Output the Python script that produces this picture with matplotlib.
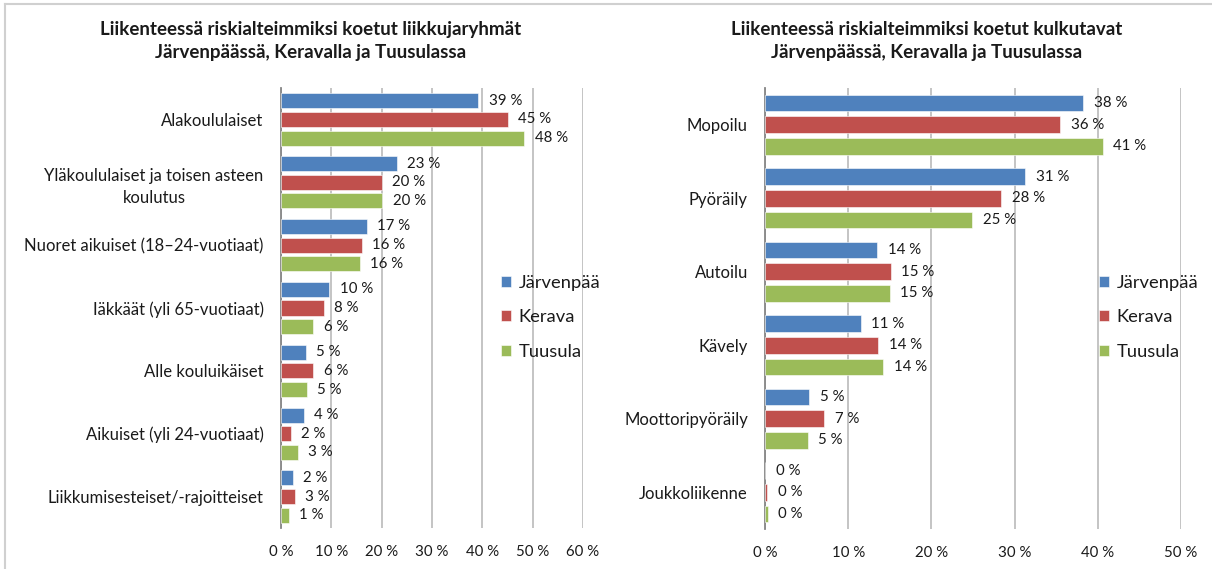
import matplotlib
matplotlib.use("Agg")
import matplotlib.pyplot as plt
import numpy as np
from matplotlib.lines import Line2D

plt.rcParams['font.family'] = ['Lato', 'DejaVu Sans']

series = ["Järvenpää", "Kerava", "Tuusula"]
colors = ["#4F81BD", "#C0504D", "#9BBB59"]

left_title = "Liikenteessä riskialteimmiksi koetut liikkujaryhmät\nJärvenpäässä, Keravalla ja Tuusulassa"
left_cats = ["Alakoululaiset", "Yläkoululaiset ja toisen asteen\nkoulutus",
             "Nuoret aikuiset (18–24-vuotiaat)", "Iäkkäät (yli 65-vuotiaat)",
             "Alle kouluikäiset", "Aikuiset (yli 24-vuotiaat)",
             "Liikkumisesteiset/-rajoitteiset"]
left_jarvenpaa = [39.2, 23.0, 17.1, 9.6, 4.9, 4.5, 2.3]
left_kerava = [45.0, 20.0, 16.1, 8.5, 6.4, 1.9, 2.7]
left_tuusula = [48.3, 20.1, 15.6, 6.4, 5.1, 3.3, 1.5]
left_labels = [["39 %", "23 %", "17 %", "10 %", "5 %", "4 %", "2 %"],
               ["45 %", "20 %", "16 %", "8 %", "6 %", "2 %", "3 %"],
               ["48 %", "20 %", "16 %", "6 %", "5 %", "3 %", "1 %"]]
left_ticks = [0, 10, 20, 30, 40, 50, 60]

right_title = "Liikenteessä riskialteimmiksi koetut kulkutavat\nJärvenpäässä, Keravalla ja Tuusulassa"
right_cats = ["Mopoilu", "Pyöräily", "Autoilu", "Kävely", "Moottoripyöräily", "Joukkoliikenne"]
right_jarvenpaa = [38.3, 31.3, 13.5, 11.5, 5.3, 0.0]
right_kerava = [35.5, 28.4, 15.1, 13.6, 7.1, 0.25]
right_tuusula = [40.6, 24.9, 15.0, 14.2, 5.1, 0.3]
right_labels = [["38 %", "31 %", "14 %", "11 %", "5 %", "0 %"],
                ["36 %", "28 %", "15 %", "14 %", "7 %", "0 %"],
                ["41 %", "25 %", "15 %", "14 %", "5 %", "0 %"]]
right_ticks = [0, 10, 20, 30, 40, 50]

W, H = 1212, 569
fig = plt.figure(figsize=(W / 100, H / 100), dpi=100)
fig.patch.set_facecolor("white")

def px_axes(x0, x1, y0, y1):
    return fig.add_axes([x0 / W, 1 - y1 / H, (x1 - x0) / W, (y1 - y0) / H])

TXT = "#1a1a1a"

def draw(ax, cats, vals, labels, ticks, pitch, height, title, title_x, legend_xy):
    n = len(cats)
    y = np.arange(n)
    for i, (v, c, lab) in enumerate(zip(vals, colors, labels)):
        off = (i - 1) * pitch
        bars = ax.barh(y + off, v, height=height, color=c, edgecolor="white",
                       linewidth=0.4, label=series[i], zorder=3)
        for b, t in zip(bars, lab):
            ax.annotate(t, (b.get_width(), b.get_y() + b.get_height() / 2),
                        xytext=(7.5, 0), textcoords="offset points",
                        ha="left", va="center", fontsize=10.8, color=TXT, zorder=4)
    ax.set_ylim(n - 0.5, -0.5)
    ax.set_xlim(ticks[0], ticks[-1])
    ax.set_xticks(ticks)
    ax.set_xticklabels([f"{t} %" for t in ticks], fontsize=10.8, color=TXT)
    ax.set_yticks(y)
    ax.set_yticklabels(cats, fontsize=12, color=TXT, multialignment="center",
                       linespacing=1.45)
    ax.tick_params(axis="both", length=0)
    ax.tick_params(axis="y", pad=12.5)
    ax.tick_params(axis="x", pad=12)
    ax.grid(axis="x", color="#BFBFBF", linewidth=1.3, zorder=0)
    for s in ["top", "right", "bottom"]:
        ax.spines[s].set_visible(False)
    ax.spines["left"].set_color("#868686")
    ax.spines["left"].set_linewidth(1.3)
    ax.set_facecolor("none")
    fig.text(title_x / W, 1 - 41 / H, title, ha="center", va="center",
             fontsize=13.5, fontweight="bold", color=TXT, linespacing=1.38)
    ax.legend(loc="upper left", bbox_to_anchor=(legend_xy[0] / W, 1 - legend_xy[1] / H),
              bbox_transform=fig.transFigure, frameon=False, fontsize=13.2,
              handlelength=0.55, handleheight=0.55, handletextpad=0.4,
              labelspacing=1.0, borderpad=0, borderaxespad=0, labelcolor=TXT)

axL = px_axes(281, 583, 88, 528)
draw(axL, left_cats, [left_jarvenpaa, left_kerava, left_tuusula], left_labels,
     left_ticks, 0.297, 0.24, left_title, 311, (501, 275))

axR = px_axes(765.3, 1180.7, 88, 529)
draw(axR, right_cats, [right_jarvenpaa, right_kerava, right_tuusula], right_labels,
     right_ticks, 0.295, 0.227, right_title, 927, (1099, 275))

# chart border
fig.add_artist(Line2D([5 / W, 1], [1 - 4 / H, 1 - 4 / H], transform=fig.transFigure,
                      color="#D0D0D0", linewidth=1.5))
fig.add_artist(Line2D([5 / W, 5 / W], [1 - 4 / H, 0], transform=fig.transFigure,
                      color="#D0D0D0", linewidth=1.5))

fig.savefig("out.png", dpi=100, facecolor="white")
